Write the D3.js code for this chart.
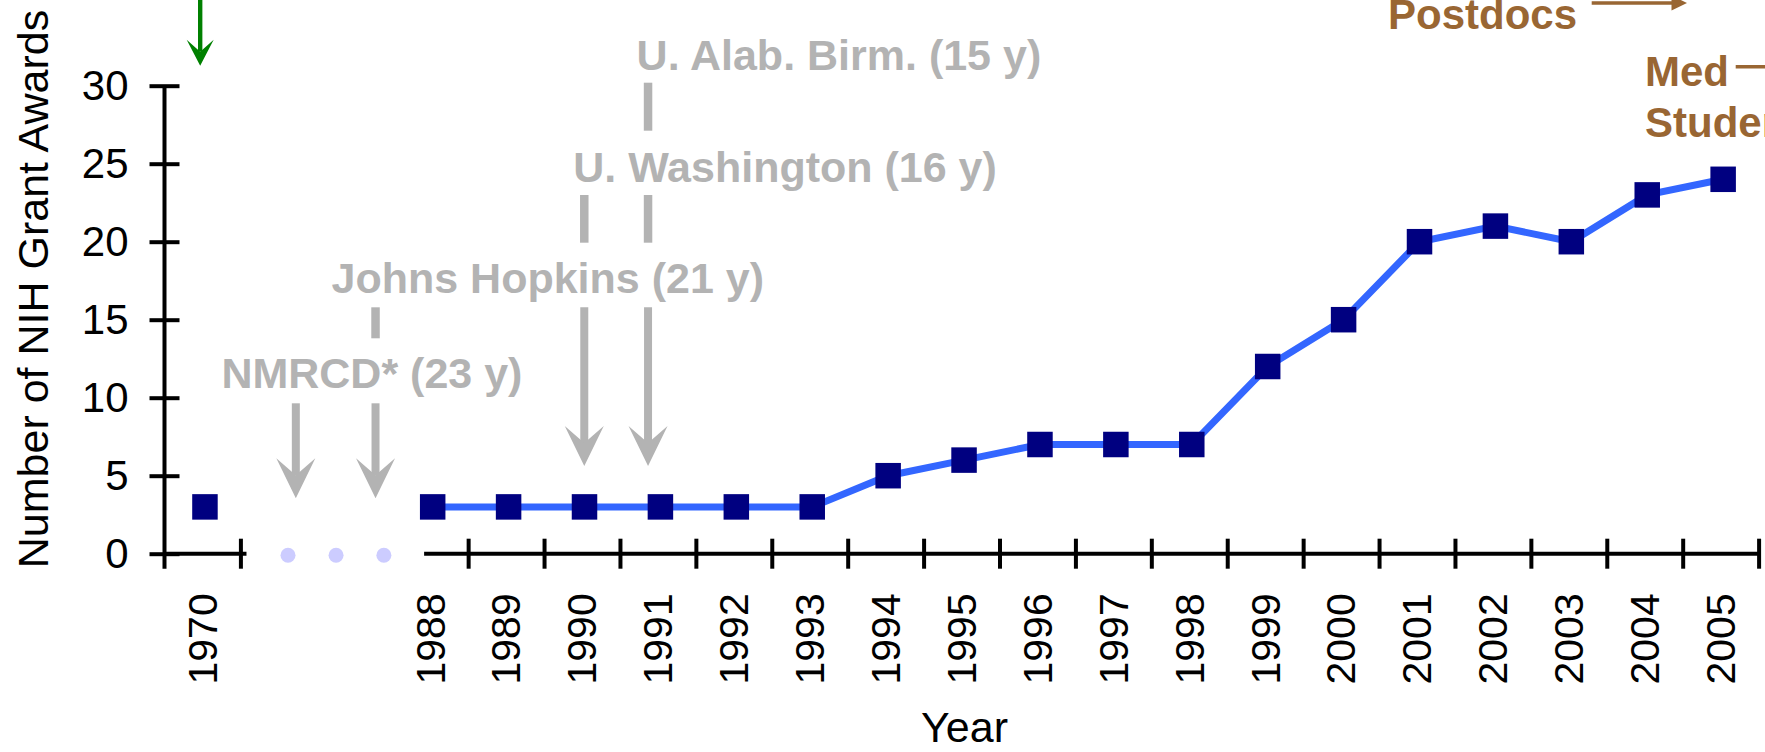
<!DOCTYPE html>
<html>
<head>
<meta charset="utf-8">
<script src="https://cdn.jsdelivr.net/npm/d3@7"></script>
<style>
  html, body { margin: 0; padding: 0; background: #ffffff; }
  svg { display: block; font-family: "Liberation Sans", Arial, Helvetica, sans-serif; }
</style>
</head>
<body>
<svg id="chart" width="1765" height="752"></svg>
<script>
// ---------------- data ----------------
// slots: 1970, two empty slots for the break, then 1988..2005
const categories = ["1970", "", "", "1988", "1989", "1990", "1991", "1992", "1993", "1994", "1995",
  "1996", "1997", "1998", "1999", "2000", "2001", "2002", "2003", "2004", "2005"];
const awards = [3, null, null, 3, 3, 3, 3, 3, 3, 5, 6, 7, 7, 7, 12, 15, 20, 21, 20, 23, 24];
const yTicks = [0, 5, 10, 15, 20, 25, 30];
const breakDots = [1.627, 2.26, 2.89];            // slot positions of the break dots

// annotation texts
const grayLabels = [
  { text: "U. Alab. Birm. (15 y)", x: 636.6, y: 70 },
  { text: "U. Washington (16 y)", x: 573.2, y: 181.7 },
  { text: "Johns Hopkins (21 y)", x: 331.5, y: 293.3 },
  { text: "NMRCD* (23 y)", x: 221.4, y: 388.3 }
];
const grayBars = [
  { slot: 6.37, y1: 82.7, y2: 130.7 },
  { slot: 5.53, y1: 195, y2: 242.7 },
  { slot: 6.37, y1: 195, y2: 242.7 },
  { slot: 2.78, y1: 307.3, y2: 338.3 }
];
const grayArrows = [
  { slot: 1.73, y1: 403.3, y2: 498.3 },
  { slot: 2.78, y1: 403.3, y2: 498.3 },
  { slot: 5.53, y1: 307.3, y2: 466 },
  { slot: 6.37, y1: 307.3, y2: 466 }
];

// ---------------- layout ----------------
const svg = d3.select("#chart");
const xLeft = 164.5, xRight = 1758.6;
const yBottom = 553.7, yTop = 85.7;

const xSlot = d3.scaleLinear().domain([0, categories.length]).range([xLeft, xRight]);
const y = d3.scaleLinear().domain([0, 30]).range([yBottom, yTop]);
const cx = i => xSlot(i + 0.5);
const markerShift = 2.5;

const gray = "#b3b3b3", brown = "#996633", green = "#008000";
const axisW = 4;

// ---------------- y axis ----------------
const yAxisG = svg.append("g").attr("transform", `translate(${xLeft},0)`)
  .call(d3.axisLeft(y).tickValues(yTicks).tickSizeInner(15).tickSizeOuter(0).tickPadding(21));
yAxisG.select(".domain").attr("d", `M0,${y(30)}V${y(0) + 15}`)
  .attr("stroke", "#000").attr("stroke-width", axisW);
yAxisG.selectAll(".tick line").attr("x1", 15).attr("x2", -15)
  .attr("stroke", "#000").attr("stroke-width", axisW);
yAxisG.selectAll(".tick text").attr("font-size", 42).attr("fill", "#000")
  .style("font-family", "'Liberation Sans', Arial, sans-serif");

// ---------------- x axis (two segments around the break) ----------------
function xSegment(from, to, ticks) {
  const g = svg.append("g").attr("transform", `translate(0,${yBottom})`)
    .call(d3.axisBottom(xSlot).tickValues(ticks).tickSizeInner(15).tickSizeOuter(0).tickFormat(""));
  g.select(".domain").attr("d", `M${xSlot(from)},0H${xSlot(to)}`)
    .attr("stroke", "#000").attr("stroke-width", axisW);
  g.selectAll(".tick line").attr("y1", -15).attr("y2", 15)
    .attr("stroke", "#000").attr("stroke-width", axisW);
  return g;
}
xSegment(0, 1.08, [1]);
xSegment(3.42, categories.length, d3.range(4, categories.length + 1));

// x tick labels
svg.append("g").selectAll("text")
  .data(categories.map((c, i) => ({ c, i })).filter(d => d.c !== ""))
  .join("text")
  .attr("transform", d => `translate(${cx(d.i)},593.3) rotate(-90)`)
  .attr("text-anchor", "end")
  .attr("dy", "0.35em")
  .attr("font-size", 41)
  .attr("fill", "#000")
  .text(d => d.c);

// break dots
svg.append("g").selectAll("circle").data(breakDots).join("circle")
  .attr("cx", d => xSlot(d)).attr("cy", y(0) + 1.5).attr("r", 7.5)
  .attr("fill", "#ccccff");

// ---------------- series ----------------
const pts = awards.map((v, i) => ({ v, i }));
const line = d3.line()
  .defined(d => d.v != null)
  .x(d => cx(d.i) + markerShift)
  .y(d => y(d.v));
svg.append("path").datum(pts)
  .attr("d", line).attr("fill", "none")
  .attr("stroke", "#3366ff").attr("stroke-width", 7);

const ms = 25.5;
svg.append("g").selectAll("rect").data(pts.filter(d => d.v != null)).join("rect")
  .attr("x", d => cx(d.i) + markerShift - ms / 2)
  .attr("y", d => y(d.v) - ms / 2)
  .attr("width", ms).attr("height", ms)
  .attr("fill", "#000080");

// ---------------- axis titles ----------------
svg.append("text")
  .attr("transform", `translate(48.3,289) rotate(-90)`)
  .attr("text-anchor", "middle").attr("font-size", 43).attr("fill", "#000")
  .text("Number of NIH Grant Awards");
svg.append("text")
  .attr("x", (xLeft + xRight) / 2 + 3).attr("y", 742)
  .attr("text-anchor", "middle").attr("font-size", 43).attr("fill", "#000")
  .text("Year");

// ---------------- gray annotations ----------------
const ann = svg.append("g");
ann.selectAll("text").data(grayLabels).join("text")
  .attr("x", d => d.x).attr("y", d => d.y)
  .attr("font-size", 43).attr("font-weight", "bold").attr("fill", gray)
  .text(d => d.text);
ann.selectAll("line.bar").data(grayBars).join("line").attr("class", "bar")
  .attr("x1", d => xSlot(d.slot)).attr("x2", d => xSlot(d.slot))
  .attr("y1", d => d.y1).attr("y2", d => d.y2)
  .attr("stroke", gray).attr("stroke-width", 8.5);

function arrowDown(g, x, y1, y2, color, shaftW, headW, headH, notch) {
  g.append("line").attr("x1", x).attr("x2", x).attr("y1", y1).attr("y2", y2 - notch)
    .attr("stroke", color).attr("stroke-width", shaftW);
  g.append("path")
    .attr("d", `M${x},${y2}L${x - headW / 2},${y2 - headH}L${x},${y2 - notch}L${x + headW / 2},${y2 - headH}Z`)
    .attr("fill", color);
}
grayArrows.forEach(a => arrowDown(ann, xSlot(a.slot), a.y1, a.y2, gray, 8, 39, 40, 23));

// green arrow at top-left
arrowDown(svg.append("g"), xSlot(0.47), -2, 65.7, green, 4.4, 27, 26, 14);

// ---------------- brown annotations ----------------
const br = svg.append("g").attr("fill", brown).attr("font-size", 42).attr("font-weight", "bold");
br.append("text").attr("x", 1388).attr("y", 29.3).text("Postdocs");
br.append("text").attr("x", 1645).attr("y", 85.5).text("Med");
br.append("text").attr("x", 1645).attr("y", 137).text("Students");
br.append("line").attr("x1", 1591.7).attr("x2", 1673).attr("y1", 3).attr("y2", 3)
  .attr("stroke", brown).attr("stroke-width", 3.5);
br.append("path").attr("d", "M1687,3L1671.5,-4.5L1671.5,10.5Z").attr("fill", brown);
br.append("line").attr("x1", 1735.7).attr("x2", 1770).attr("y1", 66.7).attr("y2", 66.7)
  .attr("stroke", brown).attr("stroke-width", 3.5);
</script>
</body>
</html>
